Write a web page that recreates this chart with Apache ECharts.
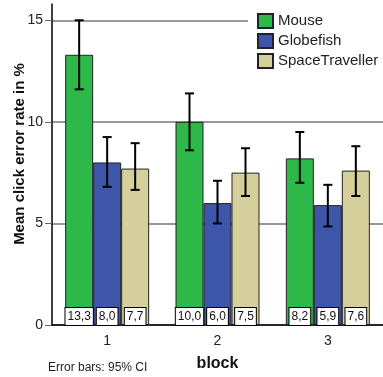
<!DOCTYPE html>
<html><head><meta charset="utf-8">
<script src="https://cdn.jsdelivr.net/npm/echarts@6/dist/echarts.min.js"></script>
<style>html,body{margin:0;padding:0;background:#fff}#c{width:383px;height:377px}</style>
</head><body><div id="c"></div>
<script>
const categories = ['1', '2', '3'];
const seriesNames = ['Mouse', 'Globefish', 'SpaceTraveller'];
const mouseMean = [13.3, 10.0, 8.2];
const mouseLow = [11.6, 8.6, 7.0];
const mouseHigh = [15.0, 11.4, 9.5];
const globeMean = [8.0, 6.0, 5.9];
const globeLow = [6.8, 5.0, 4.85];
const globeHigh = [9.25, 7.1, 6.9];
const spaceMean = [7.7, 7.5, 7.6];
const spaceLow = [6.65, 6.35, 6.35];
const spaceHigh = [8.95, 8.7, 8.8];
const yTicks = [0, 5, 10, 15];

const FONT = 'Liberation Sans, Arial, sans-serif';
const colors = ['#2eb84a', '#3d56a9', '#d5d09b'];
const BAR_W = 28;

function barSeries(k, data) {
  return {
    type: 'bar', name: seriesNames[k], data: data,
    barWidth: BAR_W, barGap: '0%',
    itemStyle: { color: colors[k], borderColor: '#222', borderWidth: 1 },
    label: {
      show: true, position: 'insideBottom', distance: 0,
      formatter: p => p.value.toFixed(1).replace('.', ','),
      backgroundColor: '#fff', borderColor: '#000', borderWidth: 1,
      padding: [2, 2, 1, 2], color: '#111', fontSize: 12, lineHeight: 14, fontFamily: FONT
    },
    z: 2
  };
}

function errSeries(k, low, high) {
  return {
    type: 'custom', name: seriesNames[k] + ' CI', z: 10, silent: true,
    data: categories.map((c, i) => [i, low[i], high[i]]),
    encode: { x: 0, y: [1, 2] },
    renderItem: (params, api) => {
      const i = api.value(0);
      const lo = api.coord([i, api.value(1)]);
      const hi = api.coord([i, api.value(2)]);
      const x = lo[0] + (k - 1) * BAR_W;
      const cap = 4.5;
      const st = { stroke: '#000', lineWidth: 2 };
      return { type: 'group', children: [
        { type: 'line', shape: { x1: x, y1: hi[1], x2: x, y2: lo[1] }, style: st },
        { type: 'line', shape: { x1: x - cap, y1: hi[1], x2: x + cap, y2: hi[1] }, style: st },
        { type: 'line', shape: { x1: x - cap, y1: lo[1], x2: x + cap, y2: lo[1] }, style: st }
      ] };
    }
  };
}

const chart = echarts.init(document.getElementById('c'), null, { renderer: 'canvas' });
chart.setOption({
  animation: false,
  textStyle: { fontFamily: FONT },
  grid: { left: 52, right: 0, top: 4, bottom: 51, containLabel: false },
  legend: {
    data: seriesNames, orient: 'vertical', left: 248, top: 4,
    padding: [9, 6, 6, 9], backgroundColor: '#fff',
    itemWidth: 15, itemHeight: 14, itemGap: 4,
    textStyle: { fontSize: 15, color: '#222', lineHeight: 15, fontFamily: FONT },
    icon: 'rect'
  },
  xAxis: {
    type: 'category', data: categories,
    name: 'block', nameLocation: 'middle', nameGap: 31,
    nameTextStyle: { fontWeight: 'bold', fontSize: 16, color: '#111', fontFamily: FONT },
    axisLine: { lineStyle: { color: '#000', width: 1.5 } },
    axisTick: { alignWithLabel: true, length: 5, lineStyle: { color: '#000' } },
    axisLabel: { margin: 9, fontSize: 14, color: '#222', fontFamily: FONT }
  },
  yAxis: {
    type: 'value', min: 0, max: 15.8, interval: 5,
    axisLine: { show: true, lineStyle: { color: '#000', width: 1.5 } },
    axisTick: { show: true, length: 7, customValues: yTicks, lineStyle: { color: '#666' } },
    axisLabel: { customValues: yTicks, margin: 9, fontSize: 14, color: '#222', fontFamily: FONT },
    splitLine: { show: true, lineStyle: { color: ['#777', '#777', '#777', '#777', 'rgba(0,0,0,0)'], width: 1.5 } }
  },
  graphic: [{
    type: 'text', left: 48, top: 362,
    style: { text: 'Error bars: 95% CI', fontSize: 12, fill: '#222', fontFamily: FONT }
  }, {
    type: 'text', x: 20, y: 154, rotation: Math.PI / 2,
    style: { text: 'Mean click error rate in %', fontSize: 15, fontWeight: 'bold', fill: '#111',
      fontFamily: FONT, align: 'center', verticalAlign: 'middle' }
  }],
  series: [
    barSeries(0, mouseMean), barSeries(1, globeMean), barSeries(2, spaceMean),
    errSeries(0, mouseLow, mouseHigh), errSeries(1, globeLow, globeHigh), errSeries(2, spaceLow, spaceHigh)
  ]
});
</script></body></html>
